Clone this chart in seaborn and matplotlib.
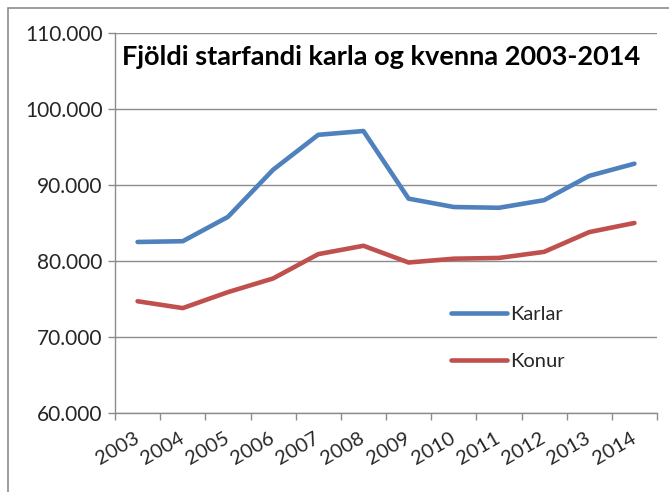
import numpy as np
import pandas as pd
import matplotlib
matplotlib.use('Agg')
import matplotlib.pyplot as plt
import seaborn as sns
from matplotlib.patches import Rectangle
from matplotlib.ticker import FuncFormatter, FixedLocator

years = ['2003', '2004', '2005', '2006', '2007', '2008', '2009', '2010', '2011', '2012', '2013', '2014']
karlar = [82500, 82600, 85800, 92000, 96600, 97100, 88200, 87100, 87000, 88000, 91200, 92800]
konur = [74700, 73800, 75900, 77700, 80900, 82000, 79800, 80300, 80400, 81200, 83800, 85000]
series_names = ['Karlar', 'Konur']
title = 'Fjöldi starfandi karla og kvenna 2003-2014'

df = pd.DataFrame({'Ár': years, 'Karlar': karlar, 'Konur': konur})
long = df.melt(id_vars='Ár', var_name='Kyn', value_name='Fjöldi')
long['pos'] = long['Ár'].map({y: i for i, y in enumerate(years)})

sns.set_theme(style='white')
plt.rcParams['font.family'] = ['Lato', 'DejaVu Sans']

fig = plt.figure(figsize=(6.69, 4.92), dpi=100)
ax = fig.add_axes([0.1719, 0.1606, 0.8102, 0.7724])

sns.lineplot(data=long, x='pos', y='Fjöldi', hue='Kyn', hue_order=series_names,
             palette=['#4F81BD', '#C0504D'], linewidth=3.3, ax=ax, legend=True)

ax.set_xlim(-0.5, len(years) - 0.5)
ax.set_ylim(60000, 110000)
ax.set_yticks(np.arange(60000, 110001, 10000))
ax.yaxis.set_major_formatter(FuncFormatter(lambda v, p: f'{int(v):,}'.replace(',', '.')))
ax.yaxis.grid(True, color='#8c8c8c', linewidth=1)
ax.set_axisbelow(True)

ax.set_xticks(range(len(years)))
ax.set_xticklabels(years, rotation=30, fontsize=14.5)
ax.xaxis.set_minor_locator(FixedLocator(np.arange(-0.5, len(years), 1)))
ax.tick_params(axis='x', which='major', length=0, pad=17)
ax.tick_params(axis='x', which='minor', length=5, color='#8c8c8c', width=1, direction='out', bottom=True)
ax.tick_params(axis='y', length=5, color='#8c8c8c', width=1, direction='out', left=True, labelsize=15, pad=4)
for lbl in ax.get_xticklabels():
    lbl.set_rotation_mode('anchor')
    lbl.set_ha('right')
    lbl.set_va('center')

for s in ['top', 'right']:
    ax.spines[s].set_visible(False)
for s in ['left', 'bottom']:
    ax.spines[s].set_color('#8c8c8c')
    ax.spines[s].set_linewidth(1)

ax.set_xlabel('')
ax.set_ylabel('')

ax.text(0.013, 0.937, title, transform=ax.transAxes, fontsize=19.5, fontweight='bold',
        ha='left', va='center', color='black')

leg = ax.legend(loc='upper left', bbox_to_anchor=(0.62, 0.282), frameon=False, fontsize=14.5,
                handlelength=2.8, labelspacing=1.5, handletextpad=0.15, borderaxespad=0, borderpad=0)
for h in leg.get_lines():
    h.set_linewidth(3.3)

fig.patches.append(Rectangle((8 / 669, -0.05), 0.99, 1.05 - 8 / 492, transform=fig.transFigure,
                             fill=False, edgecolor='#8c8c8c', linewidth=1.2))

fig.savefig('out.png', dpi=100)
